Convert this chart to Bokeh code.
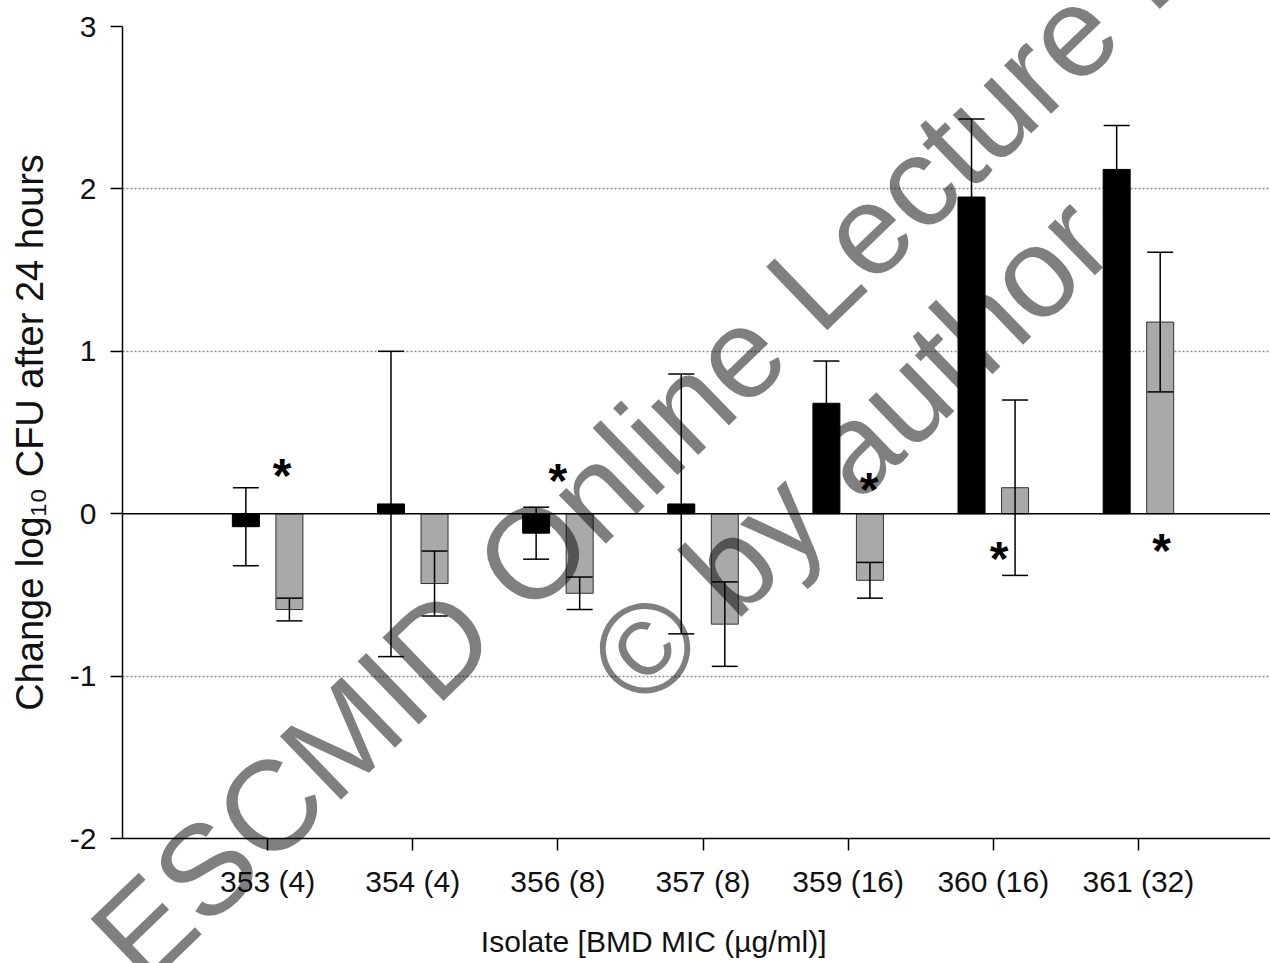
import numpy as np
from bokeh.plotting import figure
from bokeh.models import (ColumnDataSource, Range1d, FixedTicker, Whisker, TeeHead, Span)
from bokeh.core.properties import value
from bokeh.embed import file_html
from bokeh.resources import INLINE

# ---------------- data ----------------
categories = ["353 (4)", "354 (4)", "356 (8)", "357 (8)", "359 (16)", "360 (16)", "361 (32)"]
black_mean = [-0.08, 0.06, -0.12, 0.06, 0.68, 1.95, 2.12]
black_sd = [0.24, 0.94, 0.16, 0.80, 0.26, 0.48, 0.27]
gray_mean = [-0.59, -0.43, -0.49, -0.68, -0.41, 0.16, 1.18]
gray_sd = [0.07, 0.20, 0.10, 0.26, 0.11, 0.54, 0.43]
star_category = [0, 2, 4, 5, 6]          # index into categories
star_y = [0.31, 0.28, 0.22, -0.20, -0.15]
y_ticks = [-2, -1, 0, 1, 2, 3]
y_tick_labels = ["-2", "-1", "0", "1", "2", "3"]
y_label = "Change log\u2081\u2080 CFU after 24 hours"
x_label = "Isolate [BMD MIC (\u00b5g/ml)]"
watermark = ["ESCMID Online Lecture Library", "\u00a9 by author"]

# ---------------- layout / style ----------------
FONT = "Liberation Sans"
BAR_OFF = 0.15
BAR_W = 0.186
star_dx = [0.10, 0.0, 0.145, 0.04, 0.16]
WM_X = [4.38, 5.01]      # watermark line centres (data coords)
WM_Y = [1.10, 0.39]
WM_ANGLE = 44
XTITLE_X, XTITLE_Y = 3.66, -2.635

idx = np.arange(1, len(categories) + 1)
bm = np.array(black_mean); bs = np.array(black_sd)
gm = np.array(gray_mean); gs = np.array(gray_sd)

black_src = ColumnDataSource(dict(x=idx - BAR_OFF, top=bm, upper=bm + bs, lower=bm - bs))
gray_src = ColumnDataSource(dict(x=idx + BAR_OFF, top=gm, upper=gm + gs, lower=gm - gs))
star_src = ColumnDataSource(dict(
    x=np.array(star_category) + 1 + np.array(star_dx),
    y=star_y, t=["*"] * len(star_y)))
wm_src = ColumnDataSource(dict(x=WM_X, y=WM_Y, t=watermark))

p = figure(width=1270, height=963, output_backend="svg", toolbar_location=None,
           x_range=Range1d(0, 7.91), y_range=Range1d(-2, 3),
           min_border_left=122, min_border_right=0, min_border_top=26, min_border_bottom=125)
p.outline_line_color = None
p.background_fill_color = "white"
p.border_fill_color = "white"

# grid
p.xgrid.visible = False
p.ygrid.ticker = FixedTicker(ticks=[t for t in y_ticks if t not in (0, -2)])
p.ygrid.grid_line_color = "#8a8a8a"
p.ygrid.grid_line_dash = "2 2"
p.ygrid.grid_line_width = 1.5

# bars
p.vbar(x="x", top="top", bottom=0, width=BAR_W, source=black_src,
       fill_color="black", line_color="black", line_width=1)
p.vbar(x="x", top="top", bottom=0, width=BAR_W, source=gray_src,
       fill_color="#a9a9a9", line_color="#333333", line_width=1)

# zero line
p.add_layout(Span(location=0, dimension="width", line_color="black", line_width=1.5,
                  level="glyph"))

# error bars
for src in (black_src, gray_src):
    w = Whisker(source=src, base="x", upper="upper", lower="lower",
                line_color="black", line_width=1.5, level="glyph",
                upper_head=TeeHead(size=26, line_width=1.5, line_color="black"),
                lower_head=TeeHead(size=26, line_width=1.5, line_color="black"))
    p.add_layout(w)

# significance stars
p.text(x="x", y="y", text="t", source=star_src, text_font=value(FONT),
       text_font_size="48px", text_font_style="bold", text_color="black",
       text_align="center", text_baseline="middle", y_offset=12)

# axes
p.yaxis.ticker = FixedTicker(ticks=y_ticks)
p.yaxis.major_label_overrides = dict(zip(y_ticks, y_tick_labels))
p.xaxis.ticker = FixedTicker(ticks=list(idx))
p.xaxis.major_label_overrides = {int(i): c for i, c in zip(idx, categories)}
for ax in (p.xaxis, p.yaxis):
    ax.axis_line_color = "black"
    ax.axis_line_width = 1.5
    ax.major_tick_line_color = "black"
    ax.major_tick_line_width = 1.5
    ax.major_tick_out = 12
    ax.major_tick_in = 0
    ax.minor_tick_line_color = None
    ax.major_label_text_font = FONT
    ax.major_label_text_font_size = "30px"
    ax.major_label_text_color = "#111111"
    ax.axis_label_text_font = FONT
    ax.axis_label_text_font_style = "normal"
    ax.axis_label_text_color = "#111111"
p.yaxis.major_label_standoff = 14
p.xaxis.major_label_standoff = 14
p.yaxis.axis_label = y_label
p.yaxis.axis_label_text_font_size = "38px"
p.yaxis.axis_label_standoff = 16

# x-axis title (placed left of centre, as in the original)
xt = p.text(x=[XTITLE_X], y=[XTITLE_Y], text=[x_label], text_font=value(FONT),
            text_font_size="30px", text_color="#111111",
            text_align="center", text_baseline="middle")
xt.level = "overlay"

# watermark (drawn above everything, not clipped to the frame)
wm = p.text(x="x", y="y", text="t", source=wm_src, angle=WM_ANGLE, angle_units="deg",
            text_font=value(FONT), text_font_size="128px", text_color="black",
            text_alpha=0.5, text_align="center", text_baseline="alphabetic")
wm.level = "overlay"

open("out.html", "w").write(file_html(p, INLINE))
